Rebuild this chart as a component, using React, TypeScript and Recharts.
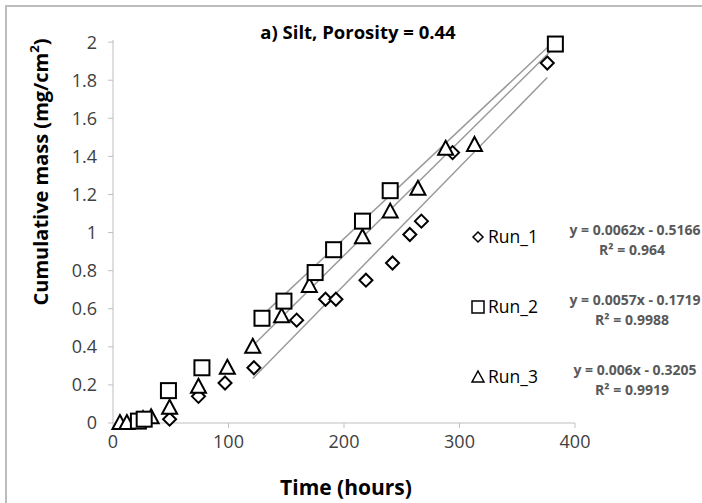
import { ScatterChart, Scatter, XAxis, YAxis } from "recharts"

const run1 = [
  { x: 24, y: 0.01 }, { x: 28, y: 0.02 }, { x: 49, y: 0.02 }, { x: 74, y: 0.14 },
  { x: 97, y: 0.21 }, { x: 122, y: 0.29 }, { x: 159, y: 0.54 }, { x: 184, y: 0.65 },
  { x: 193, y: 0.65 }, { x: 219, y: 0.75 }, { x: 242, y: 0.84 }, { x: 257, y: 0.99 },
  { x: 267, y: 1.06 }, { x: 294, y: 1.42 }, { x: 376, y: 1.89 },
]
const run2 = [
  { x: 22, y: 0.01 }, { x: 27, y: 0.02 }, { x: 48, y: 0.17 }, { x: 77, y: 0.29 },
  { x: 129, y: 0.55 }, { x: 148, y: 0.64 }, { x: 175, y: 0.79 }, { x: 191, y: 0.91 },
  { x: 216, y: 1.06 }, { x: 240, y: 1.22 }, { x: 383, y: 1.99 },
]
const run3 = [
  { x: 6, y: 0 }, { x: 12, y: 0 }, { x: 26, y: 0.02 }, { x: 33, y: 0.03 },
  { x: 49, y: 0.08 }, { x: 74, y: 0.19 }, { x: 99, y: 0.29 }, { x: 121, y: 0.4 },
  { x: 146, y: 0.56 }, { x: 170, y: 0.72 }, { x: 216, y: 0.975 }, { x: 240, y: 1.11 },
  { x: 264, y: 1.23 }, { x: 288, y: 1.44 }, { x: 313, y: 1.46 },
]

// trendline fits (slope, intercept) and the x range they are drawn over
const fits = [
  { name: "Run_1", slope: 0.0062, intercept: -0.5166, r2: "0.964", from: 121, to: 376 },
  { name: "Run_2", slope: 0.0057, intercept: -0.1719, r2: "0.9988", from: 127, to: 383 },
  { name: "Run_3", slope: 0.006, intercept: -0.3205, r2: "0.9919", from: 123, to: 383 },
]

const xTicks = [0, 100, 200, 300, 400]
const yTicks = [0, 0.2, 0.4, 0.6, 0.8, 1, 1.2, 1.4, 1.6, 1.8, 2]

const FONT = "'Open Sans', Lato, sans-serif"

const Diamond = ({ cx, cy }: any) => (
  <path d={`M${cx},${cy - 6.5} L${cx + 6.5},${cy} L${cx},${cy + 6.5} L${cx - 6.5},${cy} Z`} fill="#fff" stroke="#000" strokeWidth={2} />
)
const Square = ({ cx, cy }: any) => (
  <rect x={cx - 7.5} y={cy - 7.5} width={15} height={15} fill="#fff" stroke="#000" strokeWidth={2} />
)
const Triangle = ({ cx, cy }: any) => (
  <path d={`M${cx},${cy - 8} L${cx + 7.5},${cy + 6} L${cx - 7.5},${cy + 6} Z`} fill="#fff" stroke="#000" strokeWidth={2} />
)
const NoDot = () => <g />

const lineOf = (f: (typeof fits)[number]) => [
  { x: f.from, y: f.slope * f.from + f.intercept },
  { x: f.to, y: f.slope * f.to + f.intercept },
]

const legendY = [237, 307, 377]

export default function App() {
  return (
    <div style={{ position: "absolute", left: 0, top: 0, width: 702, height: 503, background: "#fff" }}>
      <ScatterChart width={702} height={503} margin={{ top: 40, right: 127, bottom: 50, left: 53 }}>
        <XAxis
          type="number"
          dataKey="x"
          domain={[0, 400]}
          ticks={xTicks}
          height={30}
          stroke="#bfbfbf"
          tick={{ fill: "#404040", fontSize: 18, fontFamily: FONT }}
          tickSize={5}
          tickMargin={7}
        />
        <YAxis
          type="number"
          dataKey="y"
          domain={[0, 2]}
          ticks={yTicks}
          width={60}
          stroke="#bfbfbf"
          tick={{ fill: "#404040", fontSize: 18, fontFamily: FONT }}
          tickSize={5}
          tickMargin={11}
        />
        {fits.map((f) => (
          <Scatter
            key={f.name + "-fit"}
            data={lineOf(f)}
            line={{ stroke: "#9a9a9a", strokeWidth: 1.5 }}
            shape={NoDot}
            isAnimationActive={false}
          />
        ))}
        <Scatter data={run1} shape={Diamond} isAnimationActive={false} />
        <Scatter data={run3} shape={Triangle} isAnimationActive={false} />
        <Scatter data={run2} shape={Square} isAnimationActive={false} />
      </ScatterChart>
      <svg width={702} height={503} style={{ position: "absolute", left: 0, top: 0, pointerEvents: "none" }} fontFamily={FONT}>
        <path d="M6,503 L6,6 L702,6" fill="none" stroke="#bdbdbd" strokeWidth={2} />
        <text x={358} y={39} textAnchor="middle" fontSize={18.5} fontWeight="bold" fill="#000">
          a) Silt, Porosity = 0.44
        </text>
        <text x={346} y={495} textAnchor="middle" fontSize={21} fontWeight="bold" fill="#000">
          Time (hours)
        </text>
        <text
          transform="translate(48,172) rotate(-90)"
          textAnchor="middle"
          fontSize={20}
          fontWeight="bold"
          fill="#000"
        >
          Cumulative mass (mg/cm<tspan baselineShift="super" fontSize={13}>2</tspan>)
        </text>
        {fits.map((f, i) => {
          const y = legendY[i]
          const mx = 478
          return (
            <g key={f.name}>
              {i === 0 && <path d={`M${mx},${y - 5} L${mx + 5},${y} L${mx},${y + 5} L${mx - 5},${y} Z`} fill="#fff" stroke="#000" strokeWidth={1.5} />}
              {i === 1 && <rect x={mx - 6} y={y - 6} width={12} height={12} fill="#fff" stroke="#000" strokeWidth={1.5} />}
              {i === 2 && <path d={`M${mx},${y - 6} L${mx + 6},${y + 5} L${mx - 6},${y + 5} Z`} fill="#fff" stroke="#000" strokeWidth={1.5} />}
              <text x={488} y={y + 6} fontSize={17.5} fill="#000">
                {f.name}
              </text>
              <text x={635} y={y - 2} textAnchor="middle" fontSize={14} fontWeight="bold" fill="#595959">
                {`y = ${f.slope}x - ${Math.abs(f.intercept)}`}
              </text>
              <text x={632} y={y + 18} textAnchor="middle" fontSize={14} fontWeight="bold" fill="#595959">
                {`R² = ${f.r2}`}
              </text>
            </g>
          )
        })}
      </svg>
    </div>
  )
}
